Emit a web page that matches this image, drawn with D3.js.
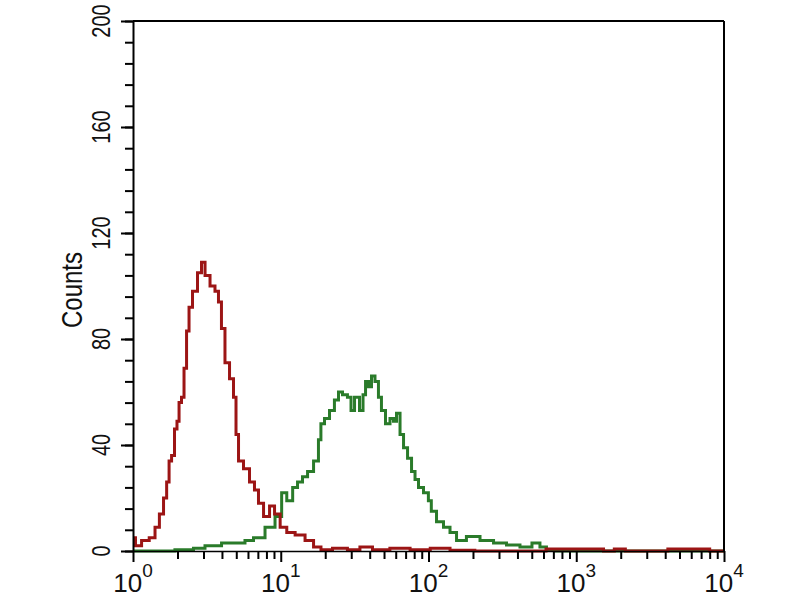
<!DOCTYPE html>
<html>
<head>
<meta charset="utf-8">
<script src="https://cdn.jsdelivr.net/npm/d3@7"></script>
<style>
  body { margin: 0; background: #fff; }
  svg { display: block; font-family: "Liberation Sans", Arial, sans-serif; }
</style>
</head>
<body>
<div id="chart"></div>
<script>
// histogram channels (fluorescence) and counts
var redFluor = [1.00,1.08,1.21,1.37,1.45,1.57,1.65,1.73,1.78,1.87,1.95,2.02,2.08,2.18,2.25,2.36,2.43,2.63,2.84,2.98,3.17,3.48,3.70,3.88,4.06,4.33,4.68,4.90,5.06,5.30,5.91,6.39,6.90,7.24,8.08,8.73,9.44,10.4,11.6,13.5,15.8,17.6,19.9,25.2,31.7,37.2,46.9,64,88,120,163,260,1500,1560,2100,2200,7900,8100,10000]
var redCounts = [5,2,4,5,9,14,20,26,34,36,46,49,56,58,69,83,92,98,105,109,104,100,98,94,84,71,65,58,44,34,31,26,23,18,13,17,14,9,7,6,4,1.5,0.5,1,0.5,1.5,0.5,1,0.5,1,0.3,0,0.8,0,0.8,0,0.8,0,0]

var greenFluor = [1.00,1.52,2.43,2.71,3.48,4.54,5.55,5.91,7.24,8.46,9.89,10.4,11.6,12.5,13.5,14.6,15.8,17.6,18.4,19.0,20.6,22.2,24.0,25.2,27.2,29.4,30.4,32.8,35.5,36.6,38.4,40.2,42.1,44.8,46.9,49.2,53.2,56.6,59.3,62.2,66.2,69.4,75,78.6,83.6,87.6,97.7,102,107,120,133,147,163,200,249,305,373,464,542,595,664,776,10000]
var greenCounts = [0,0,0.5,1,2,3,3,4,5,9,13,22,19,24,26,28,30,34,42,48,50,53,57,60,59,58,53,58,53,59,64,62,66,64,58,53,48,50,49,52,44,39,35,30,27,24,22,19,15,11,9,7,4,5.5,4,3,2.3,1.5,3,1.5,0.5,0,0]

var xMajor = [1,10,100,1000,10000]
var xExp = ["0","1","2","3","4"]
var yMajor = [0,40,80,120,160,200]
var yLabel = "Counts"

var width = 800, height = 600;
var plotLeft = 133, plotRight = 724, plotTop = 21, plotBottom = 551;

var svg = d3.select("#chart").append("svg")
  .attr("width", width)
  .attr("height", height);

var x = d3.scaleLog().domain([1, 10000]).range([plotLeft, plotRight]);
var y = d3.scaleLinear().domain([0, 200]).range([plotBottom, plotTop]);

// minor ticks
var xMinor = [];
xMajor.slice(0, -1).forEach(function(d){
  for (var k = 2; k < 10; k++) xMinor.push(d * k);
});
var yMinor = d3.range(0, 201, 8);

var line = d3.line()
  .x(d => x(d[0]))
  .y(d => y(d[1]))
  .curve(d3.curveStep);

svg.append("path")
  .datum(d3.zip(greenFluor, greenCounts))
  .attr("d", line)
  .attr("fill", "none")
  .attr("stroke", "#2a7b2a")
  .attr("stroke-width", 3);

svg.append("path")
  .datum(d3.zip(redFluor, redCounts))
  .attr("d", line)
  .attr("fill", "none")
  .attr("stroke", "#9c1515")
  .attr("stroke-width", 3);

svg.append("g")
  .attr("transform", "translate(0," + plotBottom + ")")
  .call(d3.axisBottom(x).tickValues(xMinor).tickSize(8).tickFormat(""))
  .call(g => g.select(".domain").remove())
  .selectAll("line").attr("stroke", "#000").attr("stroke-width", 2);

svg.append("g")
  .attr("transform", "translate(0," + plotBottom + ")")
  .call(d3.axisBottom(x).tickValues(xMajor).tickSize(11).tickSizeOuter(0).tickFormat(""))
  .call(g => g.select(".domain").attr("stroke-width", 1.5))
  .selectAll("line").attr("stroke", "#000").attr("stroke-width", 2);

svg.append("g")
  .attr("transform", "translate(" + plotLeft + ",0)")
  .call(d3.axisLeft(y).tickValues(yMinor).tickSize(8).tickFormat(""))
  .call(g => g.select(".domain").remove())
  .selectAll("line").attr("stroke", "#000").attr("stroke-width", 2);

svg.append("g")
  .attr("transform", "translate(" + plotLeft + ",0)")
  .call(d3.axisLeft(y).tickValues(yMajor).tickSize(12).tickSizeOuter(0).tickFormat(""))
  .call(g => g.select(".domain").attr("stroke-width", 2))
  .selectAll("line").attr("stroke", "#000").attr("stroke-width", 2);

// frame top and right
svg.append("line")
  .attr("x1", plotLeft).attr("x2", plotRight).attr("y1", plotTop).attr("y2", plotTop)
  .attr("stroke", "#000").attr("stroke-width", 2);
svg.append("line")
  .attr("x1", plotRight).attr("x2", plotRight).attr("y1", plotTop).attr("y2", plotBottom)
  .attr("stroke", "#000").attr("stroke-width", 2);

// x labels 10^n
var xl = svg.selectAll(".xlab")
  .data(xMajor)
  .enter().append("text")
  .attr("class", "xlab")
  .attr("x", d => x(d))
  .attr("y", 592)
  .attr("text-anchor", "middle")
  .style("font-size", "26px")
  .attr("fill", "#111");
xl.append("tspan").text("10");
xl.append("tspan")
  .attr("dy", -15)
  .style("font-size", "19px")
  .text((d, i) => xExp[i]);

// y labels, rotated
svg.selectAll(".ylab")
  .data(yMajor)
  .enter().append("text")
  .attr("class", "ylab")
  .attr("transform", d => "translate(110," + Math.max(y(d), 20) + ") scale(1.25,1) rotate(-90)")
  .attr("text-anchor", "middle")
  .style("font-size", "20px")
  .attr("fill", "#111")
  .text(d => d);

svg.append("text")
  .attr("transform", "translate(82,290) scale(1.2,1) rotate(-90)")
  .attr("text-anchor", "middle")
  .style("font-size", "24px")
  .attr("fill", "#111")
  .text(yLabel);
</script>
</body>
</html>
